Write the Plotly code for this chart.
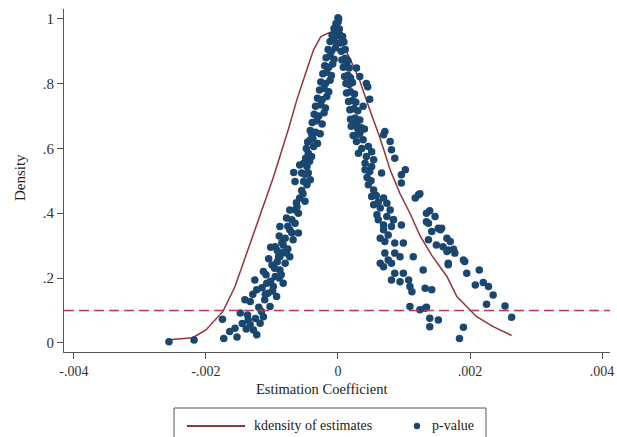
import plotly.graph_objects as go

# ---------------- data (coefficient, p-value) ----------------
# left branch, lower part
left_low_x = [-25.6e-4, -21.8e-4, -17.5e-4, -17.3e-4, -16.4e-4, -15.6e-4, -15.3e-4, -14.8e-4, -14.5e-4, -14.1e-4,
              -13.9e-4, -13.7e-4, -13.6e-4, -13.3e-4, -13.3e-4, -12.9e-4, -12.8e-4, -12.6e-4, -12.5e-4, -12.3e-4,
              -12.3e-4, -12.0e-4, -11.8e-4, -11.6e-4, -11.5e-4, -11.3e-4, -11.3e-4, -11.1e-4, -11.0e-4, -10.9e-4,
              -10.8e-4, -10.6e-4, -10.5e-4, -10.3e-4, -10.2e-4, -10.0e-4, -9.9e-4, -9.8e-4, -9.6e-4, -9.5e-4,
              -9.3e-4, -9.2e-4, -9.0e-4, -8.9e-4, -8.8e-4, -8.6e-4, -8.3e-4, -8.0e-4, -7.8e-4]
left_low_y = [0.004, 0.009, 0.073, 0.014, 0.035, 0.045, 0.018, 0.092, 0.060, 0.133,
              0.043, 0.086, 0.071, 0.128, 0.056, 0.150, 0.040, 0.194, 0.075, 0.164,
              0.025, 0.110, 0.061, 0.097, 0.170, 0.220, 0.081, 0.133, 0.150, 0.210,
              0.184, 0.153, 0.260, 0.112, 0.190, 0.240, 0.160, 0.174, 0.230, 0.205,
              0.143, 0.250, 0.266, 0.200, 0.225, 0.210, 0.184, 0.246, 0.277]

# left branch, middle part
left_mid_x = [-10.2e-4, -9.5e-4, -9.2e-4, -8.9e-4, -8.8e-4, -8.8e-4, -8.5e-4, -8.3e-4, -8.2e-4, -8.0e-4,
              -7.8e-4, -7.6e-4, -7.6e-4, -7.3e-4, -7.3e-4, -7.3e-4, -7.0e-4, -7.0e-4, -6.8e-4, -6.7e-4,
              -6.5e-4, -6.5e-4, -6.5e-4, -6.3e-4, -6.2e-4, -6.0e-4, -6.0e-4, -5.8e-4, -5.8e-4, -5.5e-4,
              -5.5e-4, -5.3e-4, -5.2e-4, -5.2e-4, -5.0e-4, -5.0e-4, -4.9e-4, -4.8e-4, -4.7e-4, -4.7e-4,
              -4.5e-4, -4.5e-4, -4.3e-4, -4.2e-4, -4.2e-4, -4.0e-4, -4.0e-4, -3.7e-4]
left_mid_y = [0.295, 0.297, 0.285, 0.330, 0.359, 0.266, 0.310, 0.302, 0.280, 0.323,
              0.385, 0.360, 0.290, 0.410, 0.349, 0.266, 0.380, 0.340, 0.318, 0.526,
              0.498, 0.410, 0.369, 0.432, 0.420, 0.400, 0.339, 0.549, 0.447, 0.524,
              0.470, 0.460, 0.554, 0.498, 0.437, 0.520, 0.570, 0.600, 0.544, 0.488,
              0.585, 0.524, 0.560, 0.627, 0.503, 0.647, 0.575, 0.606]

# left branch, upper part up to the peak
left_top_x = [-4.6e-4, -3.8e-4, -3.1e-4, -4.2e-4, -3.4e-4, -2.7e-4, -3.9e-4, -3.2e-4, -2.4e-4,
              -3.6e-4, -2.9e-4, -2.1e-4, -3.4e-4, -2.6e-4, -1.9e-4, -3.1e-4, -2.4e-4, -1.7e-4,
              -2.8e-4, -2.1e-4, -1.4e-4, -2.6e-4, -1.9e-4, -1.2e-4, -2.3e-4, -1.7e-4, -1.0e-4,
              -2.0e-4, -1.4e-4, -0.8e-4, -1.8e-4, -1.2e-4, -0.6e-4, -1.5e-4, -1.0e-4, -0.4e-4,
              -1.2e-4, -0.7e-4, -0.2e-4, -0.9e-4, -0.5e-4, 0.0, -0.6e-4, -0.3e-4, 0.2e-4,
              -0.3e-4, 0.0, 0.1e-4, 0.0]
left_top_y = [0.620, 0.630, 0.615, 0.655, 0.650, 0.645, 0.680, 0.685, 0.675,
              0.705, 0.700, 0.710, 0.730, 0.735, 0.725, 0.755, 0.750, 0.760,
              0.780, 0.785, 0.775, 0.805, 0.800, 0.810, 0.830, 0.835, 0.825,
              0.855, 0.850, 0.860, 0.880, 0.885, 0.875, 0.905, 0.900, 0.910,
              0.930, 0.935, 0.925, 0.950, 0.955, 0.950, 0.970, 0.975, 0.968,
              0.985, 0.990, 1.000, 1.003]

# right branch, upper part
right_top_x = [0.3e-4, 0.7e-4, 0.4e-4, 0.9e-4, 0.5e-4, 1.1e-4, 0.6e-4, 1.1e-4, 1.5e-4,
               0.8e-4, 1.3e-4, 1.7e-4, 1.0e-4, 1.5e-4, 1.9e-4, 1.2e-4, 1.7e-4, 2.2e-4,
               1.3e-4, 1.9e-4, 2.5e-4, 1.6e-4, 2.2e-4, 2.7e-4, 1.8e-4, 2.4e-4, 3.0e-4,
               1.9e-4, 2.6e-4, 3.3e-4, 2.0e-4, 2.8e-4, 3.5e-4, 2.3e-4, 3.1e-4,
               2.8e-4, 3.3e-4, 4.3e-4, 4.8e-4, 3.8e-4, 4.5e-4]
right_top_y = [0.950, 0.945, 0.925, 0.928, 0.900, 0.905, 0.873, 0.878, 0.870,
               0.850, 0.855, 0.848, 0.822, 0.826, 0.818, 0.800, 0.797, 0.803,
               0.771, 0.775, 0.768, 0.745, 0.748, 0.742, 0.719, 0.722, 0.716,
               0.690, 0.694, 0.688, 0.668, 0.671, 0.664, 0.640, 0.644,
               0.848, 0.822, 0.800, 0.752, 0.730, 0.790]

# right branch, inner part, middle
right_mid_x = [2.6e-4, 3.3e-4, 3.8e-4, 2.8e-4, 4.6e-4, 5.1e-4, 3.1e-4, 4.3e-4, 5.4e-4, 4.1e-4,
               5.1e-4, 4.1e-4, 4.8e-4, 6.6e-4, 4.6e-4, 5.4e-4, 5.1e-4, 6.9e-4, 7.4e-4, 5.4e-4,
               6.4e-4, 7.9e-4, 5.9e-4, 7.4e-4, 8.4e-4, 6.9e-4, 8.1e-4, 3.6e-4, 4.4e-4, 5.0e-4,
               5.8e-4, 6.1e-4, 4.0e-4, 3.0e-4]
right_mid_y = [0.673, 0.647, 0.627, 0.621, 0.606, 0.590, 0.585, 0.575, 0.565, 0.554,
               0.544, 0.534, 0.529, 0.524, 0.488, 0.472, 0.452, 0.447, 0.431, 0.426,
               0.416, 0.410, 0.395, 0.390, 0.380, 0.364, 0.359, 0.600, 0.510, 0.500,
               0.455, 0.435, 0.660, 0.660]

# right branch, inner part, lower
right_low_x = [6.1e-4, 8.4e-4, 9.6e-4, 6.9e-4, 6.4e-4, 7.6e-4, 7.1e-4, 8.6e-4, 9.9e-4, 7.1e-4,
               8.6e-4, 9.4e-4, 7.6e-4, 6.4e-4, 11.4e-4, 6.9e-4, 8.1e-4, 12.9e-4, 8.6e-4, 9.9e-4,
               8.1e-4, 9.4e-4, 10.7e-4, 10.9e-4, 11.2e-4, 13.2e-4, 14.2e-4, 10.9e-4, 12.4e-4, 13.4e-4,
               13.9e-4, 15.2e-4, 13.9e-4, 19.0e-4, 18.4e-4, 13.2e-4]
right_low_y = [0.380, 0.380, 0.364, 0.349, 0.323, 0.333, 0.313, 0.308, 0.308, 0.277,
               0.277, 0.266, 0.256, 0.246, 0.266, 0.235, 0.246, 0.225, 0.215, 0.215,
               0.194, 0.189, 0.194, 0.174, 0.158, 0.169, 0.164, 0.112, 0.102, 0.110,
               0.076, 0.071, 0.050, 0.048, 0.014, 0.107]

# right branch, outer part
right_out_x = [7.1e-4, 6.9e-4, 7.9e-4, 8.1e-4, 8.6e-4, 10.2e-4, 9.6e-4, 9.6e-4, 12.2e-4, 11.7e-4,
               12.4e-4, 13.4e-4, 13.9e-4, 13.4e-4, 14.7e-4, 15.2e-4, 15.7e-4, 13.7e-4, 14.2e-4, 15.5e-4,
               16.5e-4, 13.7e-4, 14.9e-4, 15.9e-4, 16.7e-4, 17.7e-4, 19.2e-4, 16.7e-4, 19.5e-4, 17.0e-4,
               16.5e-4, 17.5e-4, 19.0e-4, 21.4e-4, 20.8e-4, 22.0e-4, 22.8e-4, 23.5e-4, 22.5e-4, 25.3e-4,
               26.3e-4, 16.7e-4]
right_out_y = [0.652, 0.642, 0.621, 0.596, 0.570, 0.534, 0.519, 0.493, 0.457, 0.447,
               0.460, 0.400, 0.408, 0.374, 0.390, 0.354, 0.354, 0.369, 0.344, 0.349,
               0.323, 0.318, 0.302, 0.297, 0.287, 0.277, 0.251, 0.241, 0.215, 0.313,
               0.282, 0.289, 0.256, 0.225, 0.179, 0.186, 0.174, 0.148, 0.119, 0.114,
               0.079, 0.246]

# kernel density of estimates
kd_x = [-25.6e-4, -22.0e-4, -20.0e-4, -18.8e-4, -17.4e-4, -15.6e-4, -13.7e-4, -11.8e-4, -9.8e-4, -7.5e-4,
        -6.2e-4, -5.0e-4, -3.7e-4, -2.6e-4, -1.2e-4, -0.3e-4, 0.6e-4, 1.7e-4, 3.2e-4, 4.8e-4,
        6.4e-4, 7.9e-4, 9.4e-4, 10.9e-4, 12.4e-4, 14.2e-4, 15.5e-4, 16.5e-4, 18.0e-4, 20.0e-4,
        21.0e-4, 23.5e-4, 26.3e-4]
kd_y = [0.010, 0.016, 0.040, 0.068, 0.098, 0.174, 0.285, 0.390, 0.510, 0.660,
        0.752, 0.826, 0.904, 0.945, 0.958, 0.947, 0.925, 0.882, 0.814, 0.720,
        0.630, 0.534, 0.460, 0.400, 0.332, 0.270, 0.235, 0.205, 0.143, 0.102,
        0.081, 0.050, 0.023]

threshold = 0.1

x_tick_vals = [-0.004, -0.002, 0, 0.002, 0.004]
x_tick_text = ["-.004", "-.002", "0", ".002", ".004"]
y_tick_vals = [0, 0.2, 0.4, 0.6, 0.8, 1]
y_tick_text = ["0", ".2", ".4", ".6", ".8", "1"]

legend_names = ["kdensity of estimates", "p-value"]

# ---------------- figure ----------------
px = left_low_x + left_mid_x + left_top_x + right_top_x + right_mid_x + right_low_x + right_out_x
py = left_low_y + left_mid_y + left_top_y + right_top_y + right_mid_y + right_low_y + right_out_y

FONT = "Liberation Serif, Times New Roman, serif"
NAVY = "#1a476f"
MAROON = "#90353b"
AXIS = "#555555"

fig = go.Figure()
fig.add_trace(go.Scatter(x=kd_x, y=kd_y, mode="lines", name=legend_names[0],
                         line=dict(color=MAROON, width=1.5), showlegend=False))
fig.add_trace(go.Scatter(x=px, y=py, mode="markers", name=legend_names[1],
                         marker=dict(color=NAVY, size=7.5, line=dict(width=0)), showlegend=False))

# reference line at p = 0.1
fig.add_shape(type="line", xref="paper", x0=0, x1=1, yref="y", y0=threshold, y1=threshold,
              line=dict(color="#c8325a", width=1.6, dash="10px,5px"))

# legend drawn below the plot (box runs off the bottom edge as in the original)
LEG_Y = -0.2157
fig.add_shape(type="rect", xref="paper", yref="paper", x0=0.2015, x1=0.7729, y0=-0.1633, y1=-0.30,
              line=dict(color=AXIS, width=1), fillcolor="white", layer="above")
fig.add_shape(type="line", xref="paper", yref="paper", x0=0.2253, x1=0.3315, y0=LEG_Y, y1=LEG_Y,
              line=dict(color=MAROON, width=2), layer="above")
fig.add_shape(type="circle", xref="paper", yref="paper", xsizemode="pixel", ysizemode="pixel",
              xanchor=0.6465, yanchor=LEG_Y, x0=-3.2, x1=3.2, y0=-3.2, y1=3.2,
              line=dict(width=0), fillcolor=NAVY, layer="above")

fig.update_layout(
    template="none",
    width=617, height=437,
    margin=dict(l=64, r=7, t=9, b=85),
    paper_bgcolor="white", plot_bgcolor="white",
    font=dict(family=FONT, size=14, color="#333333"),
    showlegend=False,
    xaxis=dict(range=[-0.00415, 0.00412], tickvals=x_tick_vals, ticktext=x_tick_text,
               showgrid=False, zeroline=False, showline=True, linecolor=AXIS, linewidth=1,
               ticks="outside", ticklen=6, tickcolor=AXIS, automargin=False,
               tickfont=dict(family=FONT, size=14, color="#333333")),
    yaxis=dict(range=[-0.028, 1.03], tickvals=y_tick_vals, ticktext=y_tick_text,
               showgrid=False, zeroline=False, showline=True, linecolor=AXIS, linewidth=1,
               ticks="outside", ticklen=6, tickcolor=AXIS, automargin=False,
               tickfont=dict(family=FONT, size=15, color="#333333")),
    annotations=[
        dict(text="Density", xref="paper", yref="paper", x=-0.0806, y=0.51, textangle=-90,
             showarrow=False, font=dict(family=FONT, size=15, color="#222222"),
             xanchor="center", yanchor="middle"),
        dict(text="Estimation Coefficient", xref="paper", yref="paper", x=0.4707, y=-0.107,
             showarrow=False, font=dict(family=FONT, size=14.5, color="#222222"),
             xanchor="center", yanchor="middle"),
        dict(text=legend_names[0], xref="paper", yref="paper", x=0.3443, y=LEG_Y,
             showarrow=False, font=dict(family=FONT, size=14, color="#222222"),
             xanchor="left", yanchor="middle"),
        dict(text=legend_names[1], xref="paper", yref="paper", x=0.6703, y=LEG_Y,
             showarrow=False, font=dict(family=FONT, size=14, color="#222222"),
             xanchor="left", yanchor="middle"),
    ],
)

fig.write_html("out.html", config={"displayModeBar": False},
               post_script="document.body.style.margin='0';document.body.style.overflow='hidden';")
